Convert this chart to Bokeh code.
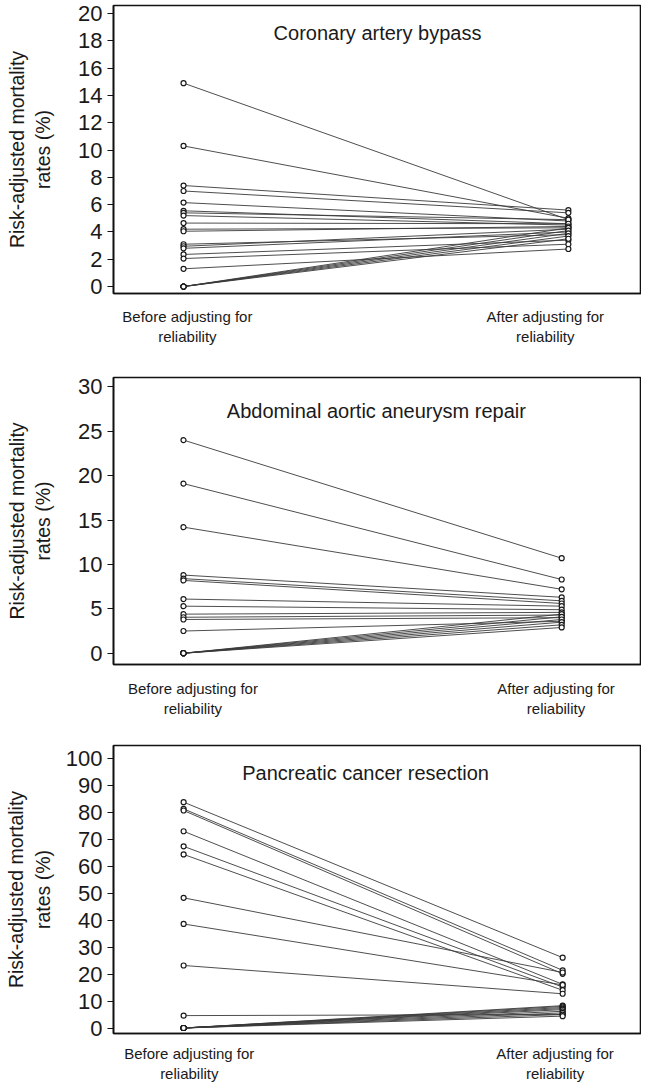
from bokeh.plotting import figure
from bokeh.layouts import column
from bokeh.models import FixedTicker, Range1d, Label, ColumnDataSource
from bokeh.embed import file_html
from bokeh.resources import INLINE

# ---------------- data ----------------
titles = ["Coronary artery bypass", "Abdominal aortic aneurysm repair",
          "Pancreatic cancer resection"]
x_before = 0.0
x_after = 1.0
x_label_before = "Before adjusting for\nreliability"
x_label_after = "After adjusting for\nreliability"
y_title = "Risk-adjusted mortality\nrates (%)"

before_cabg = [14.9, 10.3, 7.4, 7.0, 6.15, 5.55, 5.4, 5.2, 4.65, 4.2, 4.05,
               3.1, 2.95, 2.8, 2.35, 2.05, 1.3, 0, 0, 0, 0, 0]
after_cabg = [4.9, 5.0, 5.6, 5.4, 4.8, 4.6, 4.9, 4.5, 4.6, 4.3, 4.4,
              3.8, 4.2, 4.0, 3.4, 3.1, 2.75, 4.3, 4.1, 3.9, 3.7, 3.5]

before_aaa = [24.0, 19.1, 14.2, 8.8, 8.4, 8.2, 6.1, 5.3, 4.4, 4.05, 3.8, 2.5,
              0, 0, 0, 0, 0, 0]
after_aaa = [10.7, 8.3, 7.2, 6.3, 5.9, 5.6, 5.3, 4.9, 4.6, 4.3, 4.0, 3.6,
             4.4, 4.1, 3.8, 3.5, 3.2, 2.9]

before_panc = [83.8, 81.3, 80.7, 73.0, 67.4, 64.4, 48.3, 38.6, 23.2, 4.6,
               0, 0, 0, 0, 0, 0, 0, 0, 0]
after_panc = [26.1, 21.4, 20.1, 16.2, 15.2, 14.0, 20.6, 16.0, 12.7, 5.0,
              8.3, 8.0, 7.6, 7.2, 6.8, 6.2, 5.6, 5.0, 4.4]

yticks_cabg = list(range(0, 21, 2))
yticks_aaa = list(range(0, 31, 5))
yticks_panc = list(range(0, 101, 10))

FONT = "Liberation Sans"
TXT = "#1a1a1a"


def panel(title, before, after, yticks, yr, xr, xlab_pos, title_pos,
          frame_h, bt, bb, ylab_standoff, xlab_standoff):
    p = figure(frame_width=528, frame_height=frame_h, x_range=Range1d(*xr),
               y_range=Range1d(*yr), output_backend="svg",
               toolbar_location=None, min_border_left=113,
               min_border_right=0, min_border_top=bt, min_border_bottom=bb)
    p.grid.visible = False
    p.background_fill_color = "white"
    p.outline_line_color = "#111111"
    p.outline_line_width = 1.6
    p.outline_line_alpha = 1.0

    n = len(before)
    src = ColumnDataSource(dict(x0=[x_before] * n, y0=before,
                                x1=[x_after] * n, y1=after))
    p.segment("x0", "y0", "x1", "y1", source=src, line_color="#3a3a3a",
              line_width=0.9)
    p.scatter("x0", "y0", source=src, size=5, line_color="#1a1a1a",
              fill_color="white", line_width=1.2)
    p.scatter("x1", "y1", source=src, size=5, line_color="#1a1a1a",
              fill_color="white", line_width=1.2)

    ya = p.yaxis[0]
    ya.ticker = FixedTicker(ticks=yticks)
    ya.major_tick_out = 6
    ya.major_tick_in = 0
    ya.minor_tick_line_color = None
    ya.major_tick_line_color = "#111111"
    ya.major_tick_line_width = 1.2
    ya.axis_line_color = "#111111"
    ya.axis_line_width = 1.6
    ya.major_label_text_font = FONT
    ya.major_label_text_font_size = "22px"
    ya.major_label_text_color = TXT
    ya.major_label_standoff = 5
    ya.axis_label = y_title
    ya.axis_label_text_font = FONT
    ya.axis_label_text_font_size = "19.5px"
    ya.axis_label_text_font_style = "normal"
    ya.axis_label_text_color = TXT
    ya.axis_label_standoff = ylab_standoff

    xa = p.xaxis[0]
    xa.ticker = FixedTicker(ticks=list(xlab_pos))
    xa.major_label_overrides = {xlab_pos[0]: x_label_before,
                                xlab_pos[1]: x_label_after}
    xa.major_tick_line_color = None
    xa.minor_tick_line_color = None
    xa.axis_line_color = "#111111"
    xa.axis_line_width = 1.6
    xa.major_label_text_font = FONT
    xa.major_label_text_font_size = "15px"
    xa.major_label_text_color = TXT
    xa.major_label_standoff = xlab_standoff

    p.add_layout(Label(x=title_pos[0], y=title_pos[1], text=title,
                       text_align="center", text_baseline="middle",
                       text_font=FONT, text_font_size="20px",
                       text_color=TXT))
    return p


p1 = panel(titles[0], before_cabg, after_cabg, yticks_cabg,
           (-0.51, 20.59), (-0.182, 1.19), (0.01, 0.94), (0.504, 18.6),
           288, 5, 60, 21, 8)
p2 = panel(titles[1], before_aaa, after_aaa, yticks_aaa,
           (-1.27, 31.05), (-0.185, 1.211), (0.025, 0.985), (0.51, 27.3),
           287, 24, 56, 21, 9)
p3 = panel(titles[2], before_panc, after_panc, yticks_panc,
           (-2.04, 104.82), (-0.185, 1.208), (0.015, 0.98), (0.48, 94.8),
           288, 25, 50, 9, 5)

layout = column(p1, p2, p3, spacing=0)
open("out.html", "w").write(file_html(layout, INLINE))
